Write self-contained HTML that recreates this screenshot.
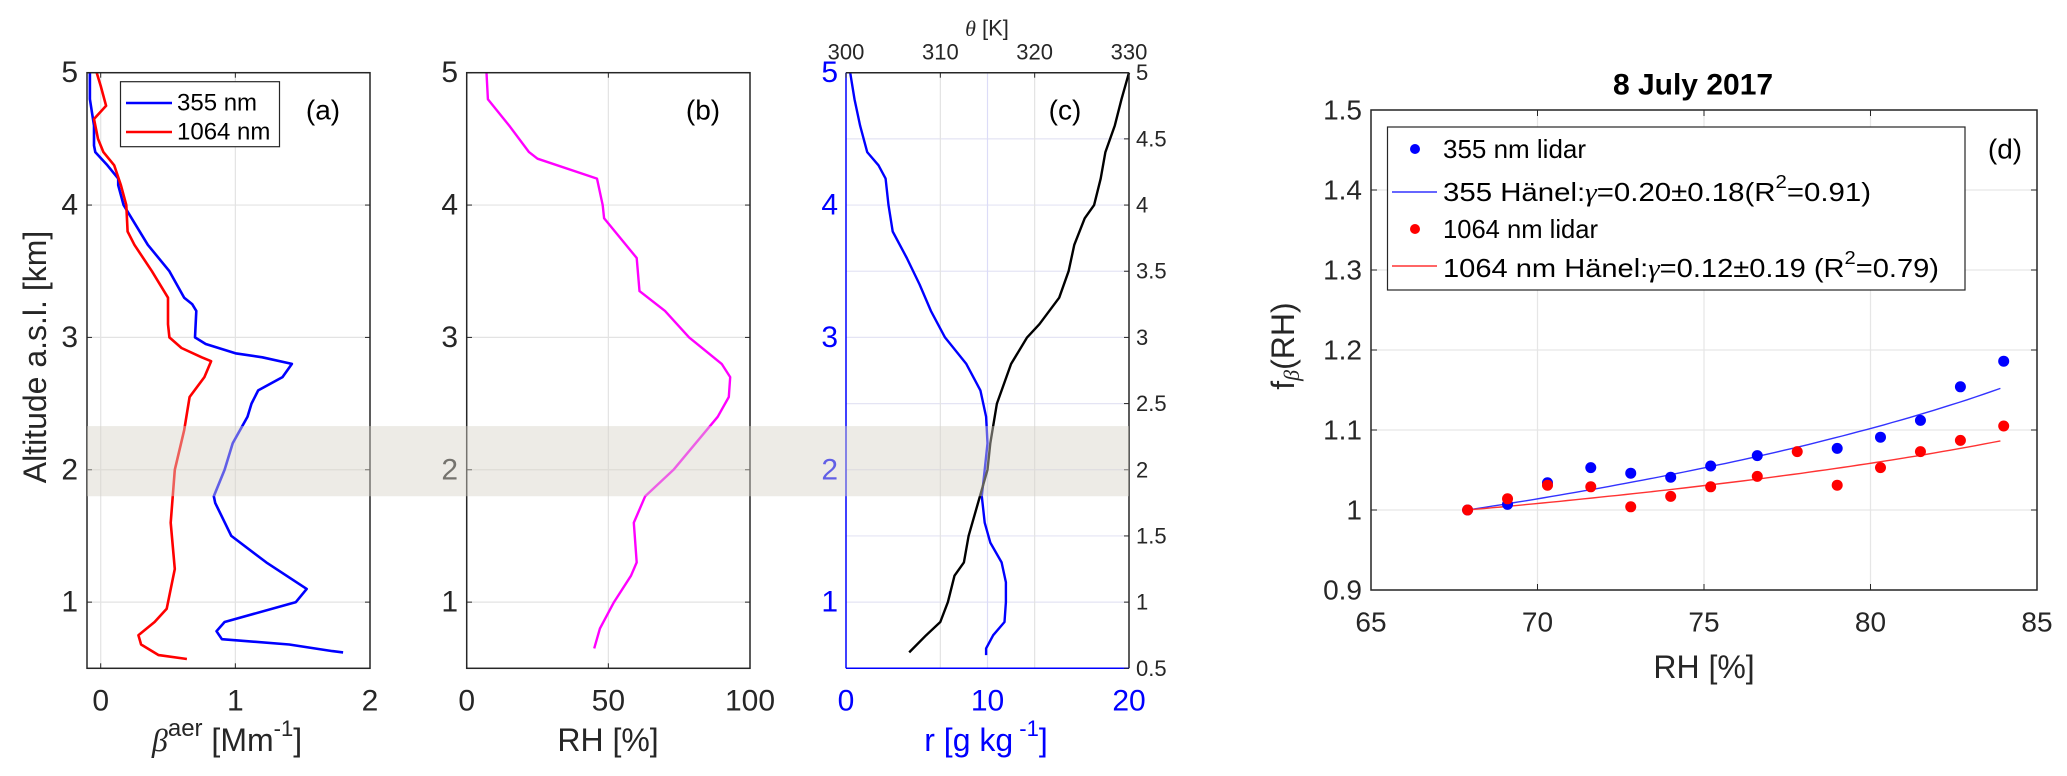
<!DOCTYPE html>
<html><head><meta charset="utf-8"><style>
html,body{margin:0;padding:0;background:#fff;}
svg{display:block;font-family:"Liberation Sans",sans-serif;}
</style></head><body>
<svg id="fig" width="2067" height="776" viewBox="0 0 2067 776" xmlns="http://www.w3.org/2000/svg">
<g id="layer"></g>
</svg>
<script>
// ---------- data ----------
const altA_blue = [5.0,4.8,4.6,4.45,4.4,4.3,4.2,4.15,4.0,3.85,3.7,3.5,3.3,3.25,3.2,3.0,2.95,2.88,2.85,2.8,2.7,2.6,2.5,2.4,2.2,2.0,1.8,1.75,1.5,1.3,1.1,1.0,0.85,0.78,0.72,0.68,0.63,0.62];
const betaBlue   = [-0.08,-0.08,-0.05,-0.05,-0.04,0.05,0.13,0.13,0.17,0.26,0.35,0.51,0.62,0.68,0.71,0.70,0.78,1.0,1.2,1.42,1.35,1.17,1.12,1.09,0.98,0.92,0.84,0.85,0.97,1.23,1.53,1.45,0.92,0.86,0.9,1.4,1.72,1.8];
const altA_red  = [5.0,4.9,4.75,4.65,4.5,4.4,4.3,4.15,4.0,3.8,3.7,3.5,3.3,3.1,3.0,2.92,2.85,2.82,2.7,2.55,2.3,2.0,1.6,1.25,0.95,0.85,0.75,0.68,0.6,0.57];
const betaRed    = [-0.03,0.0,0.04,-0.05,-0.02,0.02,0.1,0.15,0.19,0.2,0.25,0.38,0.5,0.5,0.51,0.6,0.75,0.82,0.77,0.66,0.62,0.55,0.52,0.55,0.49,0.4,0.28,0.3,0.43,0.64];
const altB = [5.0,4.8,4.6,4.4,4.35,4.2,4.0,3.9,3.6,3.35,3.2,3.0,2.8,2.7,2.55,2.4,2.0,1.8,1.6,1.3,1.2,1.0,0.8,0.65];
const rhB  = [7,7.5,15,22,25,46,48,48.5,60,61,70,78.5,90,93,92.5,88.6,73,63,59,60,58,52,47,45];
const altC_r = [5.0,4.8,4.6,4.4,4.3,4.2,4.0,3.8,3.6,3.4,3.2,3.0,2.8,2.6,2.4,2.2,2.0,1.8,1.6,1.45,1.3,1.15,1.0,0.85,0.75,0.65,0.6];
const mixR   = [0.3,0.6,1.0,1.5,2.3,2.8,3.0,3.3,4.3,5.2,6.0,7.0,8.5,9.5,9.9,10.0,9.8,9.6,9.8,10.2,11.0,11.3,11.3,11.2,10.4,9.9,9.9];
const altC_t = [5.0,4.8,4.6,4.4,4.2,4.0,3.9,3.7,3.5,3.3,3.1,3.0,2.8,2.5,2.2,2.0,1.5,1.3,1.2,1.0,0.85,0.75,0.62];
const thetaK = [330,329.2,328.5,327.5,327,326.3,325.3,324.2,323.6,322.6,320.5,319.2,317.5,316,315.3,315,313,312.5,311.5,310.8,310,308.5,306.7];
const rhD      = [67.9,69.1,70.3,71.6,72.8,74.0,75.2,76.6,79.0,80.3,81.5,82.7,84.0];
const fBlue    = [1.0,1.007,1.034,1.053,1.046,1.041,1.055,1.068,1.077,1.091,1.112,1.154,1.186];
const rhDred   = [67.9,69.1,70.3,71.6,72.8,74.0,75.2,76.6,77.8,79.0,80.3,81.5,82.7,84.0];
const fRed     = [1.0,1.014,1.031,1.029,1.004,1.017,1.029,1.042,1.073,1.031,1.053,1.073,1.087,1.105];
const gammaFit = [0.205,0.12];
const xTicksA = [0,1,2], xTicksB=[0,50,100], xTicksCb=[0,10,20], xTicksCt=[300,310,320,330];
const yTicksAlt = [1,2,3,4,5], yTicksRight=[0.5,1,1.5,2,2.5,3,3.5,4,4.5,5];
const xTicksD=[65,70,75,80,85], yTicksD=[0.9,1,1.1,1.2,1.3,1.4,1.5];

const NS="http://www.w3.org/2000/svg";
const L=document.getElementById('layer');
function el(tag,attrs,parent){const e=document.createElementNS(NS,tag);for(const k in attrs)e.setAttribute(k,attrs[k]);(parent||L).appendChild(e);return e;}
function txt(s,x,y,size,opts,parent){opts=opts||{};const t=el('text',{x:x,y:y,'font-size':size,fill:opts.fill||'#262626','text-anchor':opts.anchor||'middle','dominant-baseline':'central'},parent);if(opts.weight)t.setAttribute('font-weight',opts.weight);if(opts.tl){t.setAttribute('textLength',opts.tl);t.setAttribute('lengthAdjust','spacingAndGlyphs');}t.textContent=s;return t;}
const yTop=72.7,yBot=668.3;
function yAlt(a){return yTop+(5-a)*(yBot-yTop)/4.5;}
function lin(d0,d1,p0,p1){return v=>p0+(v-d0)*(p1-p0)/(d1-d0);}
function poly(xs,ys,fx,fy,color,w,name){const pts=xs.map((v,i)=>fx(v).toFixed(1)+','+fy(ys[i]).toFixed(1)).join(' ');const p=el('polyline',{points:pts,fill:'none',stroke:color,'stroke-width':w,'stroke-linejoin':'round'});return p;}

function altPanel(x0,x1,opts){
  const g=el('g',{});
  // y grid
  const gridY=opts.gridY||yTicksAlt;
  gridY.forEach(a=>el('line',{x1:x0,x2:x1,y1:yAlt(a),y2:yAlt(a),stroke:opts.gridColor||'#e3e3e3','stroke-width':1.2},g));
  opts.xgrid.forEach(xg=>el('line',{x1:xg,x2:xg,y1:yTop,y2:yBot,stroke:opts.vgridColor||'#e3e3e3','stroke-width':1.2},g));
  return g;
}
// ---------- panel a ----------
const fxA=lin(0,2,100.7,370);
let gA=altPanel(87,370,{name:'panel-a',xgrid:xTicksA.map(fxA)});
poly(betaBlue,altA_blue,fxA,yAlt,'#0000ff',2.6,'beta-355-line');
poly(betaRed,altA_red,fxA,yAlt,'#ff0000',2.6,'beta-1064-line');
el('rect',{x:87,y:yTop,width:283,height:yBot-yTop,fill:'none',stroke:'#262626','stroke-width':1.5});
xTicksA.forEach(v=>{el('line',{x1:fxA(v),x2:fxA(v),y1:yBot,y2:yBot-5,stroke:'#262626'});el('line',{x1:fxA(v),x2:fxA(v),y1:yTop,y2:yTop+5,stroke:'#262626'});const t=txt(String(v),fxA(v),701,30);});
yTicksAlt.forEach(a=>{el('line',{x1:87,x2:92,y1:yAlt(a),y2:yAlt(a),stroke:'#262626'});el('line',{x1:365,x2:370,y1:yAlt(a),y2:yAlt(a),stroke:'#262626'});const t=txt(String(a),78,yAlt(a),30,{anchor:'end'});});
// legend a
const lg=el('g',{});
el('rect',{x:120.5,y:81.7,width:159,height:65,fill:'#fff',stroke:'#262626','stroke-width':1.2},lg);
el('line',{x1:126,x2:172,y1:103,y2:103,stroke:'#0000ff','stroke-width':2.6},lg);
el('line',{x1:126,x2:172,y1:132,y2:132,stroke:'#ff0000','stroke-width':2.6},lg);
txt('355 nm',177,103,24,{anchor:'start',fill:'#000'},lg);
txt('1064 nm',177,132,24,{anchor:'start',fill:'#000'},lg);
txt('(a)',323,110,28,{fill:'#000'});
{const t=el('text',{x:35,y:357,'font-size':32,fill:'#262626','text-anchor':'middle','dominant-baseline':'central',transform:'rotate(-90 35 357)'});t.textContent='Altitude a.s.l. [km]';}
{const t=el('text',{x:227,y:740,'font-size':32,fill:'#262626','text-anchor':'middle','dominant-baseline':'central'});t.innerHTML='<tspan font-family="Liberation Serif" font-style="italic">β</tspan><tspan dy="-12" font-size="24">aer</tspan><tspan dy="12"> [Mm</tspan><tspan dy="-12" font-size="22">-1</tspan><tspan dy="12">]</tspan>';}
// ---------- panel b ----------
const fxB=lin(0,100,466.7,750);
altPanel(466.7,750,{name:'panel-b',xgrid:xTicksB.map(fxB)});
poly(rhB,altB,fxB,yAlt,'#ff00ff',2.4,'rh-profile-line');
el('rect',{x:466.7,y:yTop,width:283.3,height:yBot-yTop,fill:'none',stroke:'#262626','stroke-width':1.5});
xTicksB.forEach(v=>{el('line',{x1:fxB(v),x2:fxB(v),y1:yBot,y2:yBot-5,stroke:'#262626'});el('line',{x1:fxB(v),x2:fxB(v),y1:yTop,y2:yTop+5,stroke:'#262626'});txt(String(v),fxB(v),701,30);});
yTicksAlt.forEach(a=>{el('line',{x1:466.7,x2:472,y1:yAlt(a),y2:yAlt(a),stroke:'#262626'});el('line',{x1:745,x2:750,y1:yAlt(a),y2:yAlt(a),stroke:'#262626'});txt(String(a),458,yAlt(a),30,{anchor:'end'});});
txt('(b)',703,110,28,{fill:'#000'});
{const t=txt('RH [%]',608,740,32);}
// ---------- panel c ----------
const fxCr=lin(0,20,846,1129), fxCt=lin(300,330,846,1129);
altPanel(846,1129,{name:'panel-c',xgrid:[fxCt(310),fxCt(320)],gridY:yTicksRight,gridColor:'#e4e4f4'});
el('line',{x1:fxCr(10),x2:fxCr(10),y1:yTop,y2:yBot,stroke:'#dcdcf8','stroke-width':1.2});
poly(mixR,altC_r,fxCr,yAlt,'#0000ff',2.4,'mixing-ratio-line');
poly(thetaK,altC_t,fxCt,yAlt,'#000',2.4,'theta-line');
el('line',{x1:846,x2:1129,y1:yTop,y2:yTop,stroke:'#262626','stroke-width':1.5});
el('line',{x1:1129,x2:1129,y1:yTop,y2:yBot,stroke:'#262626','stroke-width':1.5});
el('line',{x1:846,x2:846,y1:yTop,y2:yBot,stroke:'#0000ff','stroke-width':1.5});
el('line',{x1:846,x2:1129,y1:yBot,y2:yBot,stroke:'#0000ff','stroke-width':1.5});
xTicksCt.forEach(v=>{el('line',{x1:fxCt(v),x2:fxCt(v),y1:yTop,y2:yTop+5,stroke:'#262626'});txt(String(v),fxCt(v),52,22);});
xTicksCb.forEach(v=>{txt(String(v),fxCr(v),701,30,{fill:'#0000ff'});});
yTicksAlt.forEach(a=>{txt(String(a),838,yAlt(a),30,{anchor:'end',fill:'#0000ff'});});
yTicksRight.forEach(a=>{el('line',{x1:1124,x2:1129,y1:yAlt(a),y2:yAlt(a),stroke:'#262626'});txt(String(a),1136,yAlt(a),22,{anchor:'start'});});
txt('(c)',1065,110,28,{fill:'#000'});
{const t=el('text',{x:987,y:28,'font-size':22,fill:'#262626','text-anchor':'middle','dominant-baseline':'central'});t.innerHTML='<tspan font-family="Liberation Serif" font-style="italic">θ</tspan> [K]';}
{const t=el('text',{x:986,y:740,'font-size':32,fill:'#0000ff','text-anchor':'middle','dominant-baseline':'central'});t.innerHTML='r [g kg<tspan dy="-12" font-size="22"> -1</tspan><tspan dy="12">]</tspan>';}
// band
{const b=el('rect',{x:87,y:yAlt(2.33),width:1129-87,height:yAlt(1.8)-yAlt(2.33),fill:'rgb(215,210,200)','fill-opacity':0.45});}
// ---------- panel d ----------
const fxD=lin(65,85,1371,2037), fyD=lin(0.9,1.5,590,110);
const gD=el('g',{});
xTicksD.forEach(v=>el('line',{x1:fxD(v),x2:fxD(v),y1:110,y2:590,stroke:'#e6e6e6','stroke-width':1.2},gD));
yTicksD.forEach(v=>el('line',{x1:1371,x2:2037,y1:fyD(v),y2:fyD(v),stroke:'#e6e6e6','stroke-width':1.2},gD));
el('rect',{x:1371,y:110,width:666,height:480,fill:'none',stroke:'#262626','stroke-width':1.5},gD);
xTicksD.forEach(v=>{el('line',{x1:fxD(v),x2:fxD(v),y1:590,y2:584,stroke:'#262626'});el('line',{x1:fxD(v),x2:fxD(v),y1:110,y2:116,stroke:'#262626'});txt(String(v),fxD(v),622,28);});
yTicksD.forEach(v=>{el('line',{x1:1371,x2:1377,y1:fyD(v),y2:fyD(v),stroke:'#262626'});el('line',{x1:2031,x2:2037,y1:fyD(v),y2:fyD(v),stroke:'#262626'});txt(String(v),1362,fyD(v),28,{anchor:'end'});});
// fits
function fitCurve(g,color,name){const xs=[],ys=[];const r0=rhD[0];for(let r=r0;r<=rhD[rhD.length-1]+0.001;r+=0.25){xs.push(r);ys.push(Math.pow((100-r)/(100-r0),-g));}poly(xs,ys,fxD,fyD,color,1.4,name);}
fitCurve(gammaFit[0],'#3333ff','fit-355-line');
fitCurve(gammaFit[1],'#ff3333','fit-1064-line');
rhD.forEach((r,i)=>{const c=el('circle',{cx:fxD(r),cy:fyD(fBlue[i]),r:5.5,fill:'#0000ff'});});
rhDred.forEach((r,i)=>{const c=el('circle',{cx:fxD(r),cy:fyD(fRed[i]),r:5.5,fill:'#ff0000'});});
// legend d
const ld=el('g',{});
el('rect',{x:1387.5,y:127,width:577.5,height:163,fill:'#fff',stroke:'#262626','stroke-width':1.2},ld);
el('circle',{cx:1415,cy:149,r:5,fill:'#0000ff'},ld);
el('line',{x1:1392,x2:1437,y1:192,y2:192,stroke:'#3333ff','stroke-width':1.4},ld);
el('circle',{cx:1415,cy:229,r:5,fill:'#ff0000'},ld);
el('line',{x1:1392,x2:1437,y1:266,y2:266,stroke:'#ff3333','stroke-width':1.4},ld);
txt('355 nm lidar',1443,149,26,{anchor:'start',fill:'#000',tl:143},ld);
{const t=el('text',{x:1443,y:192,'font-size':26,fill:'#000','dominant-baseline':'central',textLength:428,lengthAdjust:'spacingAndGlyphs'},ld);t.innerHTML='355 Hänel:<tspan font-family="Liberation Serif" font-style="italic">γ</tspan>=0.20±0.18(R<tspan dy="-10" font-size="18">2</tspan><tspan dy="10">=0.91)</tspan>';}
txt('1064 nm lidar',1443,229,26,{anchor:'start',fill:'#000',tl:155},ld);
{const t=el('text',{x:1443,y:268,'font-size':26,fill:'#000','dominant-baseline':'central',textLength:496,lengthAdjust:'spacingAndGlyphs'},ld);t.innerHTML='1064 nm Hänel:<tspan font-family="Liberation Serif" font-style="italic">γ</tspan>=0.12±0.19 (R<tspan dy="-10" font-size="18">2</tspan><tspan dy="10">=0.79)</tspan>';}
txt('(d)',2005,149,28,{fill:'#000'});
{const t=txt('8 July 2017',1693,85,30,{fill:'#000',weight:'bold'});}
{const t=txt('RH [%]',1704,667,32);}
{const t=el('text',{x:1283,y:346,'font-size':32,fill:'#262626','text-anchor':'middle','dominant-baseline':'central',transform:'rotate(-90 1283 346)'});t.innerHTML='f<tspan dy="8" font-size="22" font-family="Liberation Serif" font-style="italic">β</tspan><tspan dy="-8">(RH)</tspan>';}
</script>
</body></html>
